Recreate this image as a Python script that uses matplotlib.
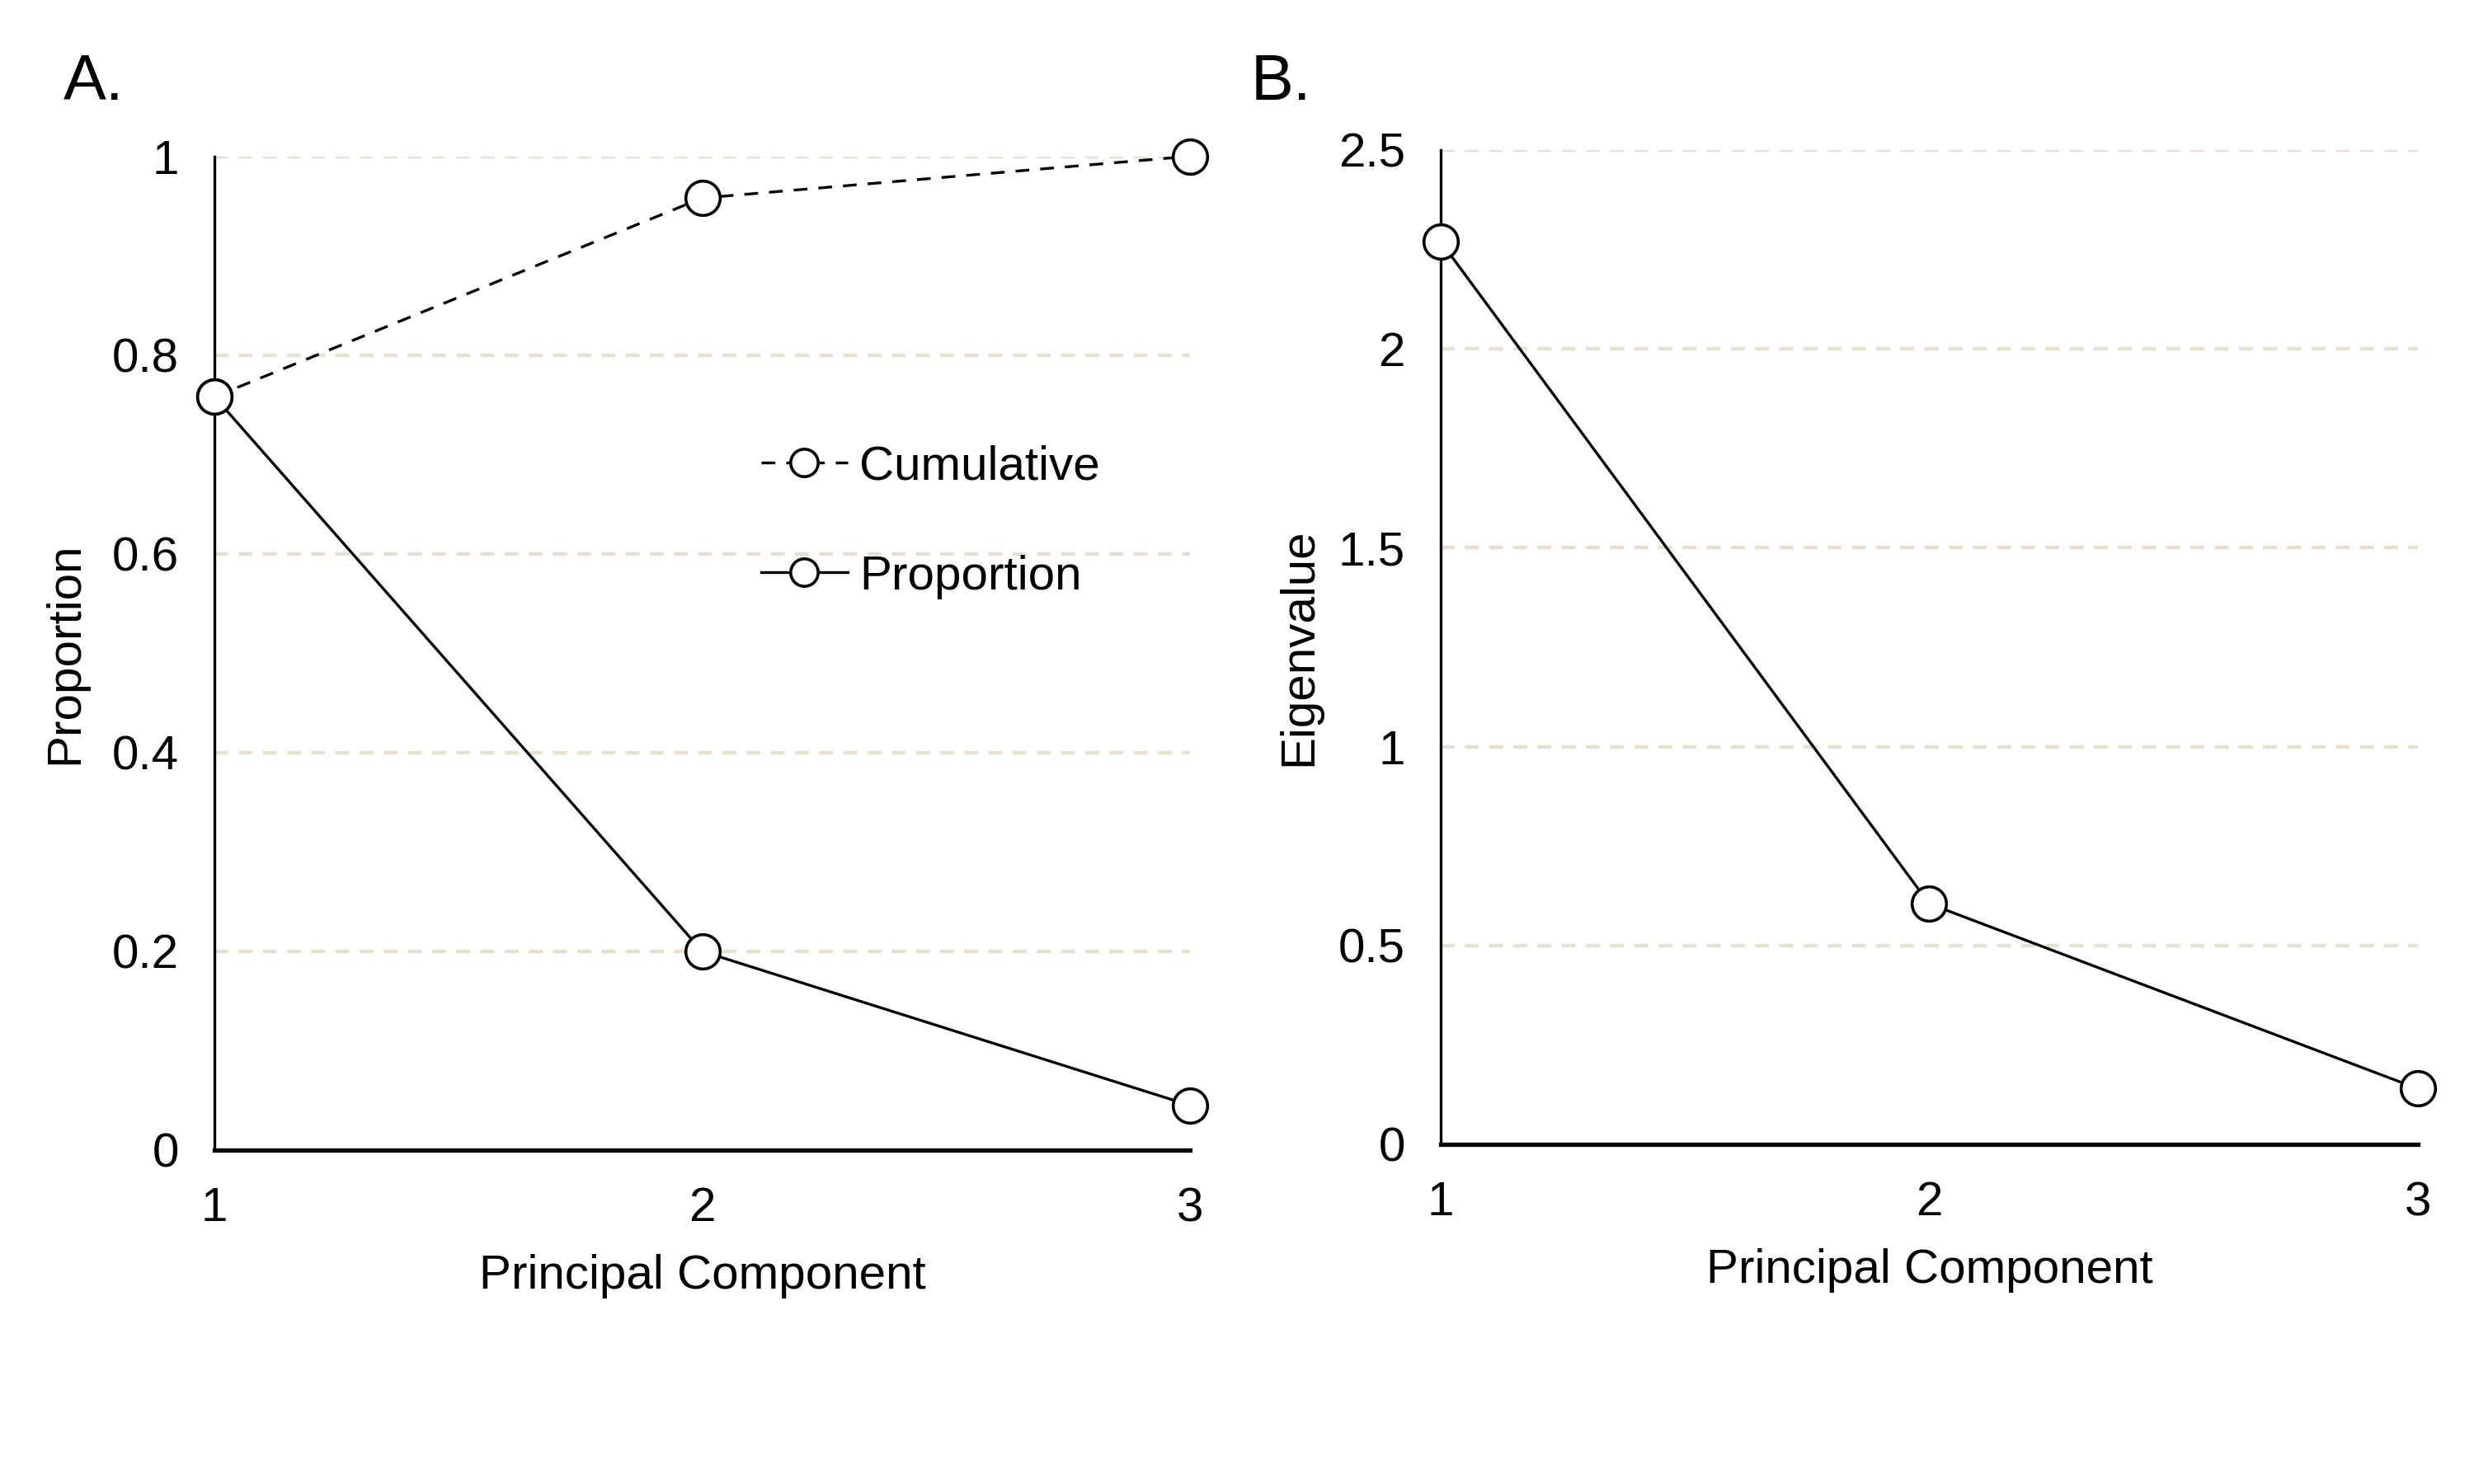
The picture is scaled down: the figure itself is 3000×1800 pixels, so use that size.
import matplotlib
matplotlib.use("Agg")
import matplotlib.pyplot as plt

plt.rcParams['font.family'] = ['Liberation Sans', 'DejaVu Sans']

components = [1, 2, 3]
cumulative = [0.758, 0.958, 1.0]
proportion = [0.758, 0.200, 0.045]
eigenvalue = [2.27, 0.605, 0.14]

a_yticks = [0, 0.2, 0.4, 0.6, 0.8, 1.0]
a_yticklabels = ["0", "0.2", "0.4", "0.6", "0.8", "1"]
b_yticks = [0, 0.5, 1.0, 1.5, 2.0, 2.5]
b_yticklabels = ["0", "0.5", "1", "1.5", "2", "2.5"]

fig = plt.figure(figsize=(15, 9), dpi=200)
axA = fig.add_axes([0.0867, 0.225, 0.3943, 0.6697])
axB = fig.add_axes([0.5823, 0.2289, 0.395, 0.670])

grid_color = '#e6e0d1'
FS = 21
mk = dict(marker='o', markersize=15, markerfacecolor='white',
          markeredgecolor='black', markeredgewidth=1.3, color='black',
          linewidth=1.2, clip_on=False, zorder=5)

def style(ax, yticks, ylabels, ylabel, lab_x):
    ax.set_xlim(1, 3)
    ax.set_ylim(yticks[0], yticks[-1])
    ax.set_xticks(components)
    ax.set_xticklabels([str(c) for c in components])
    ax.set_yticks(yticks)
    ax.set_yticklabels(ylabels)
    ax.tick_params(axis='both', length=0, labelsize=FS)
    ax.tick_params(axis='y', pad=15.5)
    ax.tick_params(axis='x', pad=16)
    for s in ['top', 'right']:
        ax.spines[s].set_visible(False)
    ax.spines['left'].set_linewidth(1.2)
    ax.spines['bottom'].set_linewidth(1.9)
    for y in yticks[1:]:
        ax.axhline(y, color=grid_color, linewidth=1.6, dashes=(3.8, 2.8), zorder=1)
    ax.set_xlabel("Principal Component", fontsize=FS, labelpad=10)
    ax.set_ylabel(ylabel, fontsize=FS)
    ax.yaxis.set_label_coords(lab_x, 0.5)

style(axA, a_yticks, a_yticklabels, "Proportion", -0.130)
style(axB, b_yticks, b_yticklabels, "Eigenvalue", -0.122)

axA.plot(components, cumulative, linestyle=(0, (5, 4)), label="Cumulative", **mk)
axA.plot(components, proportion, linestyle='-', label="Proportion", **mk)
axB.plot(components, eigenvalue, linestyle='-', **mk)

leg = axA.legend(loc='center left', bbox_to_anchor=(0.56, 0.632), frameon=False,
                 fontsize=FS, handlelength=1.8, handletextpad=0.25,
                 labelspacing=1.36, borderpad=0, borderaxespad=0, markerscale=0.8)

fig.text(0.0257, 0.944, "A.", fontsize=28, va='center', ha='left')
fig.text(0.5057, 0.944, "B.", fontsize=28, va='center', ha='left')

fig.savefig("out.png", dpi=200, facecolor='white')
